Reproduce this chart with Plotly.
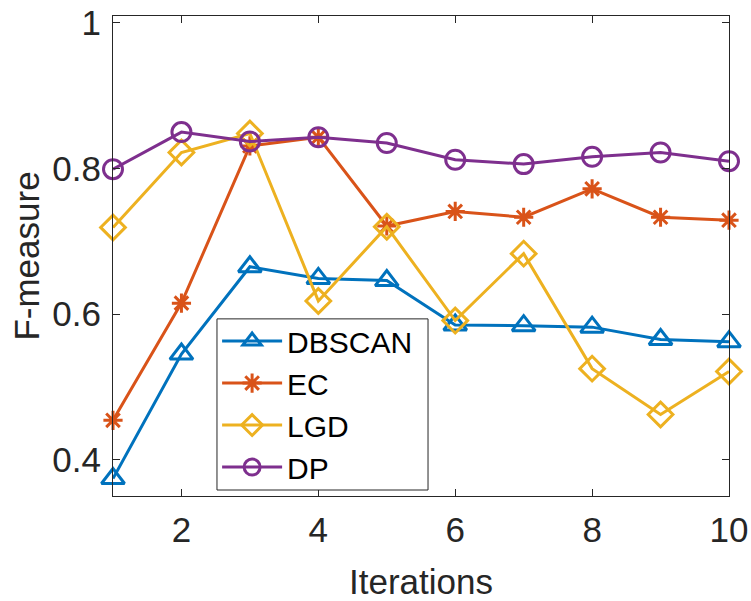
import plotly.graph_objects as go

iterations = [1, 2, 3, 4, 5, 6, 7, 8, 9, 10]
dbscan = [0.374, 0.545, 0.665, 0.649, 0.646, 0.585, 0.584, 0.582, 0.565, 0.562]
ec = [0.454, 0.615, 0.831, 0.843, 0.721, 0.741, 0.733, 0.772, 0.733, 0.729]
lgd = [0.719, 0.822, 0.848, 0.618, 0.720, 0.591, 0.683, 0.525, 0.462, 0.521]
dp = [0.799, 0.850, 0.837, 0.843, 0.835, 0.812, 0.806, 0.816, 0.822, 0.810]

y_ticks = [0.4, 0.6, 0.8, 1.0]
y_tick_labels = ["0.4", "0.6", "0.8", "1"]
x_ticks = [2, 4, 6, 8, 10]

series = [
    ("DBSCAN", dbscan, "#0072BD", "triangle-up-open", 20),
    ("EC", ec, "#D95319", "asterisk-open", 16),
    ("LGD", lgd, "#EDB120", "diamond-open", 19),
    ("DP", dp, "#7E2F8E", "circle-open", 19),
]

fig = go.Figure()
for name, vals, color, sym, size in series:
    fig.add_trace(go.Scatter(
        x=iterations, y=vals, name=name, mode="lines+markers",
        line=dict(color=color, width=3),
        marker=dict(symbol=sym, size=size, color=color, line=dict(color=color, width=3)),
        cliponaxis=False,
    ))

axis_color = "#262626"
font_family = "Liberation Sans, Arial, sans-serif"

# legend frame drawn as a shape so its size matches the reference box
fig.add_shape(
    type="rect", xref="paper", yref="paper",
    x0=0.1688, x1=0.5114, y0=0.0125, y1=0.369,
    line=dict(color=axis_color, width=1), fillcolor="white", layer="above",
)

fig.update_layout(
    width=751, height=601,
    margin=dict(l=113, r=22, t=16, b=105),
    paper_bgcolor="white", plot_bgcolor="white",
    font=dict(family=font_family, size=35, color=axis_color),
    showlegend=True,
    legend=dict(
        x=0.169, y=0.377, xanchor="left", yanchor="top",
        bgcolor="rgba(0,0,0,0)", borderwidth=0,
        font=dict(size=30, color="black"),
        tracegroupgap=0, itemwidth=60,
    ),
    xaxis=dict(
        range=[1, 10], tickvals=x_ticks, ticks="inside", ticklen=7,
        tickcolor=axis_color, showline=True, linecolor=axis_color, linewidth=1,
        mirror="ticks", showgrid=False, zeroline=False, automargin=False,
        tickfont=dict(size=35), ticklabelstandoff=3, ticklabeloverflow="allow",
        title=dict(text="Iterations", font=dict(size=35), standoff=23),
    ),
    yaxis=dict(
        range=[0.35, 1.0095], tickvals=y_ticks, ticktext=y_tick_labels,
        ticks="inside", ticklen=7,
        tickcolor=axis_color, showline=True, linecolor=axis_color, linewidth=1,
        mirror="ticks", showgrid=False, zeroline=False, automargin=False,
        tickfont=dict(size=35), ticklabelstandoff=4, ticklabeloverflow="allow",
        title=dict(text="F-measure", font=dict(size=35), standoff=2),
    ),
)

fig.write_html(
    "out.html",
    config={"displayModeBar": False},
    post_script="document.body.style.margin='0';",
)
